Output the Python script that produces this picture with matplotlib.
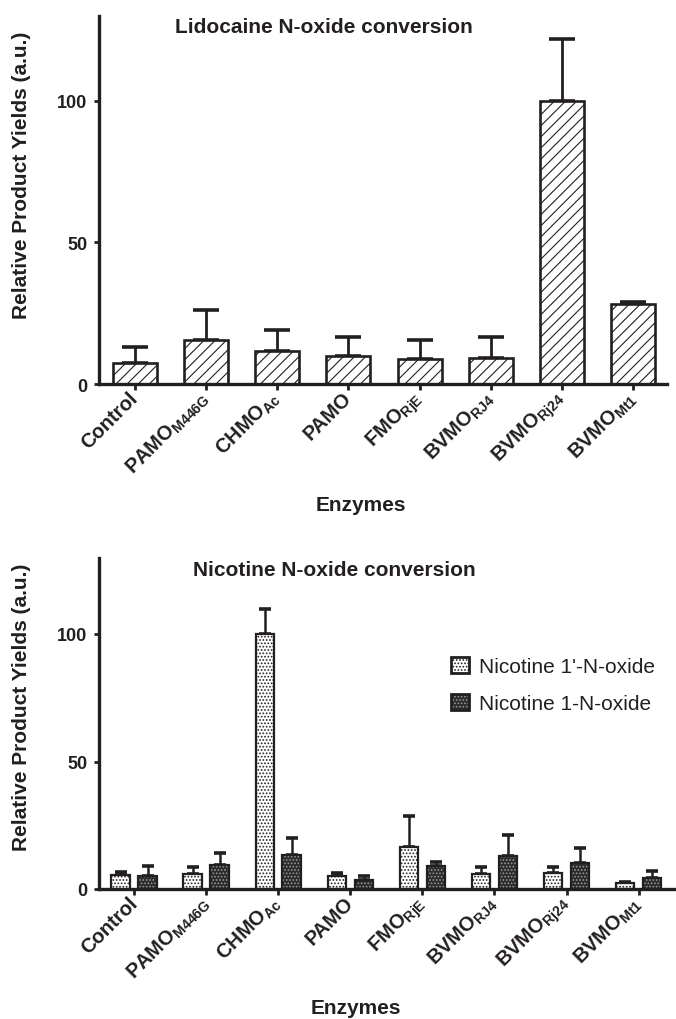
import numpy as np
import matplotlib
matplotlib.use('Agg')
import matplotlib.pyplot as plt
from matplotlib.patches import Patch
from matplotlib.legend_handler import HandlerTuple

plt.rcParams['font.family'] = ['Liberation Sans', 'DejaVu Sans']
plt.rcParams['mathtext.default'] = 'regular'
plt.rcParams['hatch.linewidth'] = 0.8

# data
enzymes = ['Control', 'PAMO$_{M446G}$', 'CHMO$_{Ac}$', 'PAMO', 'FMO$_{RjE}$',
           'BVMO$_{RJ4}$', 'BVMO$_{Rj24}$', 'BVMO$_{Mt1}$']
lido = [7.3, 15.6, 11.5, 9.8, 8.7, 9.3, 100, 28.2]
lido_err = [5.9, 10.6, 7.6, 6.8, 6.9, 7.3, 21.8, 0.6]
nic1p = [5.5, 5.75, 100, 5.1, 16.5, 6.0, 6.4, 2.35]
nic1p_err = [1.3, 3.0, 9.8, 1.2, 12.2, 2.75, 2.2, 0.3]
nic1 = [5.2, 9.5, 13.5, 3.65, 9.0, 13.1, 10.3, 4.4]
nic1_err = [3.8, 4.7, 6.6, 1.55, 1.5, 8.2, 5.8, 2.5]

ink = '#231f20'
x = np.arange(len(enzymes))

fig = plt.figure(figsize=(6.76, 10.2), dpi=100)
ax1 = fig.add_axes([99/676, 1-385/1020, 568/676, 368.3/1020])
ax2 = fig.add_axes([99/676, 1-890/1020, 577/676, 331.5/1020])


def style_axis(ax, xlim):
	for s in ['top', 'right']:
		ax.spines[s].set_visible(False)
	for s in ['left', 'bottom']:
		ax.spines[s].set_linewidth(2.4)
		ax.spines[s].set_color(ink)
	ax.set_xlim(*xlim)
	ax.set_ylim(0, 130)
	ax.set_yticks([0, 50, 100])
	ax.tick_params(axis='y', length=3.8, width=2, pad=4.5, labelsize=13, colors=ink)
	ax.tick_params(axis='x', length=4.5, width=2, pad=3, colors=ink)
	for lab in ax.get_yticklabels():
		lab.set_fontweight('bold')
	ax.set_xticks(x)
	ax.set_xticklabels(enzymes, rotation=45, ha='right', va='center',
					   rotation_mode='anchor', fontsize=14.5, fontweight='bold', color=ink)
	ax.set_ylabel('Relative Product Yields (a.u.)', fontsize=15, fontweight='bold', color=ink)
	ax.yaxis.label.set_va('center')
	ax.set_xlabel('Enzymes', fontsize=15, fontweight='bold', color=ink, va='center')


# top panel: lidocaine
style_axis(ax1, (-0.503, 7.475))
ax1.errorbar(x, lido, yerr=[np.zeros(len(x)), lido_err], fmt='none', ecolor=ink,
			 elinewidth=2, capsize=9.4, capthick=2.6, zorder=1)
ax1.bar(x, lido, width=0.62, color='white', edgecolor=ink, hatch='///', linewidth=1.9, zorder=2)
ax1.text(0.396, 0.97, 'Lidocaine N-oxide conversion', transform=ax1.transAxes,
		 ha='center', va='center', fontsize=15, fontweight='bold', color=ink)
ax1.yaxis.set_label_coords(-0.1356, 0.570)
ax1.xaxis.set_label_coords(0.461, -0.326)

# bottom panel: nicotine
style_axis(ax2, (-0.49, 7.52))
off = 0.187
w = 0.26
zeros = np.zeros(len(x))
ax2.errorbar(x - off, nic1p, yerr=[zeros, nic1p_err], fmt='none', ecolor=ink,
			 elinewidth=1.8, capsize=4.2, capthick=2.6, zorder=1)
ax2.errorbar(x + off, nic1, yerr=[zeros, nic1_err], fmt='none', ecolor=ink,
			 elinewidth=1.8, capsize=4.2, capthick=2.6, zorder=1)
ax2.bar(x - off, nic1p, width=w, color='white', edgecolor=ink, hatch='.....', linewidth=1.6, zorder=2)
ax2.bar(x + off, nic1, width=w, color='#2b2b2b', edgecolor='#9a9a9a', hatch='.....', linewidth=0, zorder=2)
ax2.bar(x + off, nic1, width=w, color='none', edgecolor=ink, linewidth=1.6, zorder=2.1)
ax2.text(0.4085, 0.965, 'Nicotine N-oxide conversion', transform=ax2.transAxes,
		 ha='center', va='center', fontsize=15, fontweight='bold', color=ink)
ax2.yaxis.set_label_coords(-0.134, 0.5505)
ax2.xaxis.set_label_coords(0.4445, -0.356)

h1 = Patch(facecolor='white', edgecolor=ink, hatch='.....', linewidth=2)
h2 = (Patch(facecolor='#2b2b2b', edgecolor='#9a9a9a', hatch='.....', linewidth=0),
	  Patch(facecolor='none', edgecolor=ink, linewidth=2))
ax2.legend([h1, h2], ["Nicotine 1'-N-oxide", 'Nicotine 1-N-oxide'],
		   handler_map={tuple: HandlerTuple(ndivide=1, pad=0)},
		   loc='upper left', bbox_to_anchor=(0.6095, 0.701), borderaxespad=0, borderpad=0,
		   frameon=False, fontsize=15, handlelength=0.9, handleheight=0.82,
		   handletextpad=0.48, labelspacing=0.85, labelcolor=ink)

plt.savefig('out.png', dpi=100)
